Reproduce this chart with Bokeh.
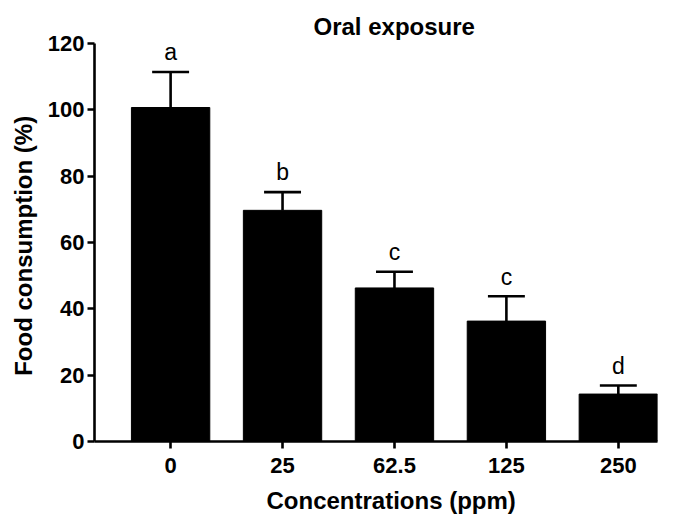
from bokeh.plotting import figure
from bokeh.models import FixedTicker, Range1d, ColumnDataSource, Title
from bokeh.embed import file_html
from bokeh.resources import INLINE
from bokeh.core.properties import value

categories = ["0", "25", "62.5", "125", "250"]
means = [100.7, 69.7, 46.3, 36.3, 14.3]
errors = [10.7, 5.5, 4.9, 7.5, 2.6]
letters = ["a", "b", "c", "c", "d"]
y_ticks = [0, 20, 40, 60, 80, 100, 120]

xs = list(range(len(categories)))
uppers = [m + e for m, e in zip(means, errors)]
letter_y = [u + 2 for u in uppers]

font = "Liberation Sans"

p = figure(width=684, height=523, output_backend="svg", toolbar_location=None,
           x_range=Range1d(-0.68, 4.35), y_range=Range1d(0, 120),
           min_border_left=94, min_border_right=27, min_border_top=43, min_border_bottom=82)
p.outline_line_color = None
p.grid.grid_line_color = None
p.background_fill_color = "white"

src = ColumnDataSource(dict(x=xs, top=means, up=uppers, l=[x - 0.165 for x in xs],
                            r=[x + 0.165 for x in xs], ly=letter_y, txt=letters))
p.vbar(x="x", top="top", width=0.7, bottom=0, source=src, fill_color="black", line_color="black")
p.segment(x0="x", y0="top", x1="x", y1="up", source=src, line_color="black", line_width=2.6)
p.segment(x0="l", y0="up", x1="r", y1="up", source=src, line_color="black", line_width=2.6)
p.text(x="x", y="ly", text="txt", source=src, text_align="center", text_baseline="bottom",
       text_font=value(font), text_font_size="23px", text_color="black")

p.title.text = "Oral exposure"
p.title.align = "left"
p.title.text_font = font
p.title.text_font_style = "bold"
p.title.text_font_size = "24px"
p.title.text_color = "black"
p.title.offset = 219
p.title.standoff = 8

p.yaxis.ticker = FixedTicker(ticks=y_ticks)
p.xaxis.ticker = FixedTicker(ticks=xs)
p.xaxis.major_label_overrides = {i: c for i, c in enumerate(categories)}
for ax in (p.xaxis, p.yaxis):
    ax.axis_line_width = 2.6
    ax.axis_line_color = "black"
    ax.major_tick_line_width = 2.6
    ax.major_tick_line_color = "black"
    ax.major_tick_in = 0
    ax.major_tick_out = 7
    ax.minor_tick_line_color = None
    ax.major_label_text_font = font
    ax.major_label_text_font_style = "bold"
    ax.major_label_text_font_size = "22px"
    ax.major_label_text_color = "black"
    ax.axis_label_text_font = font
    ax.axis_label_text_font_style = "bold"
    ax.axis_label_text_font_size = "24px"
    ax.axis_label_text_color = "black"

p.yaxis.axis_label = "Food consumption  (%)"
p.yaxis.axis_label_standoff = 8
p.yaxis.major_label_standoff = 3
p.xaxis.major_label_standoff = 9

xlabel = Title(text="Concentrations (ppm)", align="left", offset=172, standoff=18,
               text_font=font, text_font_style="bold", text_font_size="24px", text_color="black")
p.add_layout(xlabel, "below")

open("out.html", "w").write(file_html(p, INLINE))
